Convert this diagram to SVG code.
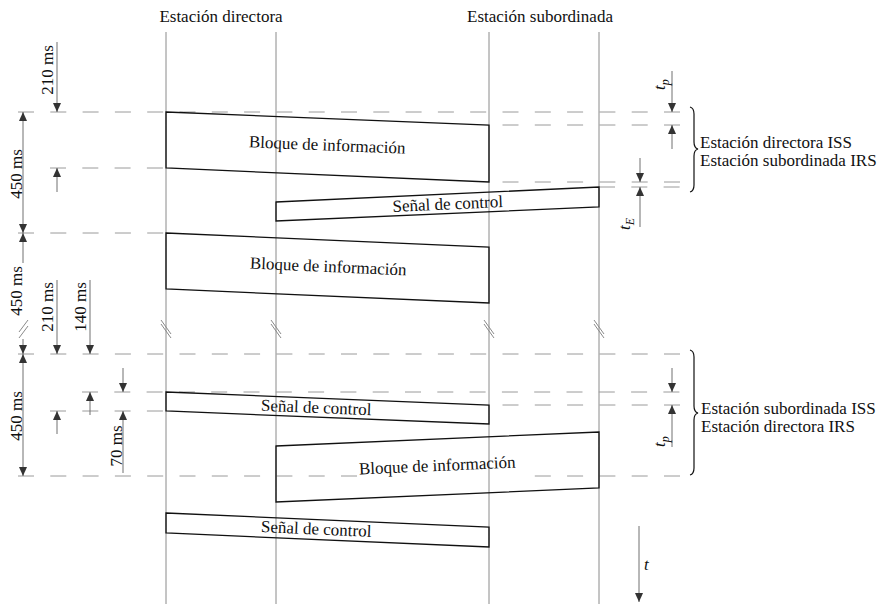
<svg xmlns="http://www.w3.org/2000/svg" width="884" height="604" viewBox="0 0 884 604">
<style>
.t{font-family:"Liberation Serif","DejaVu Serif","Times New Roman",serif;font-size:17px;fill:#111}
.it{font-style:italic}
.vl{stroke:#8a8a8a;stroke-width:1;fill:none}
.dl{stroke:#9a9a9a;stroke-width:1;stroke-dasharray:16 16.3;fill:none}
.box{stroke:#111;stroke-width:1.3;fill:none}
.dim{stroke:#707070;stroke-width:1;fill:none}
.brk{stroke:#8a8a8a;stroke-width:1;fill:none}
.br{stroke:#111;stroke-width:1.2;fill:none}
</style>
<defs>
<marker id="ah" markerUnits="userSpaceOnUse" viewBox="0 0 9 8" markerWidth="9" markerHeight="8" refX="9" refY="4" orient="auto">
<path d="M0,0 L9,4 L0,8 z" fill="#333"/>
</marker>
<marker id="ahs" markerUnits="userSpaceOnUse" viewBox="0 0 9 8" markerWidth="9" markerHeight="8" refX="0" refY="4" orient="auto">
<path d="M9,0 L0,4 L9,8 z" fill="#333"/>
</marker>
</defs>

<g id="headers" font-family="Liberation Serif, serif">
<text class="t" x="221" y="22" text-anchor="middle">Estación directora</text>
<text class="t" x="540" y="22" text-anchor="middle">Estación subordinada</text>
</g>

<g id="timelines">
<line class="vl" x1="166" y1="32" x2="166" y2="604"/>
<line class="vl" x1="276" y1="32" x2="276" y2="604"/>
<line class="vl" x1="489" y1="32" x2="489" y2="604"/>
<line class="vl" x1="599" y1="32" x2="599" y2="604"/>
<path class="brk" d="M161,320 L171,334 M161,324 L171,338"/>
<path class="brk" d="M271,320 L281,334 M271,324 L281,338"/>
<path class="brk" d="M484,320 L494,334 M484,324 L494,338"/>
<path class="brk" d="M594,320 L604,334 M594,324 L604,338"/>
<path class="brk" d="M28,320 L19,332 M28,326 L19,338"/>
</g>

<g id="guides">
<line class="dl" x1="18" y1="112" x2="681" y2="112"/>
<line class="dl" x1="489" y1="125" x2="681" y2="125" style="stroke-dashoffset:18.8"/>
<line class="dl" x1="50" y1="168" x2="166" y2="168"/>
<line class="dl" x1="489" y1="182" x2="681" y2="182" style="stroke-dashoffset:18.8"/>
<line class="dl" x1="599" y1="187" x2="681" y2="187"/>
<line class="dl" x1="18" y1="233" x2="166" y2="233"/>
<line class="dl" x1="18" y1="354" x2="681" y2="354"/>
<line class="dl" x1="82" y1="392" x2="681" y2="392"/>
<line class="dl" x1="489" y1="405" x2="681" y2="405" style="stroke-dashoffset:18.8"/>
<line class="dl" x1="50" y1="411" x2="166" y2="411"/>
<line class="dl" x1="18" y1="476" x2="357" y2="476"/>
<line class="dl" x1="519" y1="476" x2="681" y2="476" style="stroke-dashoffset:16.5"/>
</g>

<g id="bloque1">
<polygon class="box" points="166,112 489,125 489,182 166,168"/>
<text class="t" transform="translate(327,150.5) rotate(2.3)" text-anchor="middle">Bloque de información</text>
</g>
<g id="senal1">
<polygon class="box" points="276,202 599,187 599,207 276,221"/>
<text class="t" transform="translate(448,209.5) rotate(-2.6)" text-anchor="middle">Señal de control</text>
</g>
<g id="bloque2">
<polygon class="box" points="166,233 489,247 489,303 166,289"/>
<text class="t" transform="translate(328,272) rotate(2.5)" text-anchor="middle">Bloque de información</text>
</g>
<g id="senal2">
<polygon class="box" points="166,392 489,405 489,424 166,411"/>
<text class="t" transform="translate(316,413) rotate(2.3)" text-anchor="middle">Señal de control</text>
</g>
<g id="bloque3">
<polygon class="box" points="276,446 599,432 599,488 276,502"/>
<text class="t" transform="translate(437.5,471) rotate(-2.5)" text-anchor="middle">Bloque de información</text>
</g>
<g id="senal3">
<polygon class="box" points="166,513 489,527 489,547 166,533"/>
<text class="t" transform="translate(316,534.5) rotate(2.5)" text-anchor="middle">Señal de control</text>
</g>

<g id="connectors">
<line class="dim" x1="57" y1="42" x2="57" y2="112" marker-end="url(#ah)"/>
<line class="dim" x1="57" y1="192" x2="57" y2="168" marker-end="url(#ah)"/>
<line class="dim" x1="23" y1="112" x2="23" y2="233" marker-start="url(#ahs)" marker-end="url(#ah)"/>
<line class="dim" x1="23" y1="233" x2="23" y2="263" marker-start="url(#ahs)"/>
<line class="dim" x1="23" y1="339" x2="23" y2="354" marker-end="url(#ah)"/>
<line class="dim" x1="23" y1="354" x2="23" y2="476" marker-start="url(#ahs)" marker-end="url(#ah)"/>
<line class="dim" x1="57" y1="280" x2="57" y2="354" marker-end="url(#ah)"/>
<line class="dim" x1="57" y1="434" x2="57" y2="411" marker-end="url(#ah)"/>
<line class="dim" x1="90" y1="280" x2="90" y2="354" marker-end="url(#ah)"/>
<line class="dim" x1="90" y1="415" x2="90" y2="392" marker-end="url(#ah)"/>
<line class="dim" x1="123" y1="368" x2="123" y2="392" marker-end="url(#ah)"/>
<line class="dim" x1="123" y1="473" x2="123" y2="411" marker-end="url(#ah)"/>
<line class="dim" x1="672" y1="71" x2="672" y2="112" marker-end="url(#ah)"/>
<line class="dim" x1="672" y1="149" x2="672" y2="125" marker-end="url(#ah)"/>
<line class="dim" x1="640" y1="158" x2="640" y2="182" marker-end="url(#ah)"/>
<line class="dim" x1="640" y1="227" x2="640" y2="187" marker-end="url(#ah)"/>
<line class="dim" x1="672" y1="368" x2="672" y2="392" marker-end="url(#ah)"/>
<line class="dim" x1="672" y1="447" x2="672" y2="405" marker-end="url(#ah)"/>
<line class="dim" x1="639" y1="526" x2="639" y2="602" marker-end="url(#ah)"/>
</g>

<g id="dim-labels">
<text class="t" transform="translate(53,70) rotate(-90)" text-anchor="middle">210 ms</text>
<text class="t" transform="translate(21.5,174) rotate(-90)" text-anchor="middle">450 ms</text>
<text class="t" transform="translate(22,291) rotate(-90)" text-anchor="middle">450 ms</text>
<text class="t" transform="translate(53,307) rotate(-90)" text-anchor="middle">210 ms</text>
<text class="t" transform="translate(85.5,307) rotate(-90)" text-anchor="middle">140 ms</text>
<text class="t" transform="translate(21.5,416) rotate(-90)" text-anchor="middle">450 ms</text>
<text class="t" transform="translate(121.5,446) rotate(-90)" text-anchor="middle">70 ms</text>
<text class="t it" transform="translate(665,90) rotate(-90)">t<tspan font-size="12" dy="4">p</tspan></text>
<text class="t it" transform="translate(630,230) rotate(-90)">t<tspan font-size="12" dy="4">E</tspan></text>
<text class="t it" transform="translate(665,447) rotate(-90)">t<tspan font-size="12" dy="4">p</tspan></text>
<text class="t it" x="644" y="570">t</text>
</g>

<g id="brace1">
<path class="br" d="M690,107 Q694,108 694,114 L694,142 Q694,148 698,149 Q694,150 694,156 L694,185 Q694,191 690,192"/>
<text class="t" x="700" y="148">Estación directora ISS</text>
<text class="t" x="700" y="166">Estación subordinada IRS</text>
</g>
<g id="brace2">
<path class="br" d="M690,350 Q694,351 694,357 L694,406 Q694,412 698,413 Q694,414 694,420 L694,468 Q694,474 690,475"/>
<text class="t" x="701" y="414">Estación subordinada ISS</text>
<text class="t" x="701" y="432">Estación directora IRS</text>
</g>
</svg>
